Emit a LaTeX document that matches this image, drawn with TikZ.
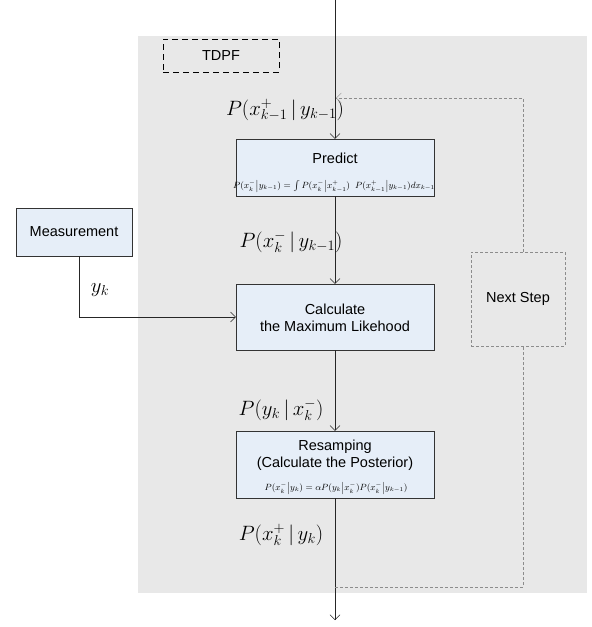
\documentclass[tikz,border=0pt]{standalone}
\usepackage{fontspec}
\setmainfont{Liberation Sans}
\usetikzlibrary{arrows.meta,positioning}
\definecolor{boxblue}{HTML}{E6EEF8}
\definecolor{bggray}{HTML}{E8E8E8}
\definecolor{loopgray}{HTML}{8C8C8C}
\tikzset{
  block/.style={draw=black!80,fill=boxblue,minimum width=198pt,inner sep=0pt},
  blocktext/.style={font=\fontsize{14.5}{17}\selectfont,align=center,inner sep=0pt},
  problabel/.style={font=\fontsize{21}{24}\selectfont,inner sep=0pt},
  formula/.style={font=\fontsize{9}{10}\selectfont,inner sep=0pt},
  flow/.style={draw=black!85,-{Straight Barb[length=5pt,width=10pt]}},
  loopline/.style={draw=loopgray,dashed,dash pattern=on 3pt off 2pt}
}

\begin{document}
\begin{tikzpicture}[x=1pt,y=-1pt]
  \useasboundingbox (0,0) rectangle (592,627);
  \fill[bggray] (138,36) rectangle (587,593);

  \node[draw,thick,dashed,dash pattern=on 6pt off 4pt,minimum width=116pt,minimum height=33pt,font=\fontsize{14.5}{17}\selectfont] (tdpf) at (221,55.5) {TDPF};

  \node[block,minimum height=57pt] (predict) at (335,167.5) {};
  \node[blocktext] at (335,158) {Predict};
  \node[formula] at (334,186) {$P(x^{-}_{k}\big|y_{k-1}) = \int P(x^{-}_{k}\big|x^{+}_{k-1})\;\; P(x^{+}_{k-1}\big|y_{k-1})dx_{k-1}$};

  \node[block,minimum height=66pt] (calc) at (335,317) {};
  \node[blocktext] at (335,318) {Calculate\\the Maximum Likehood};

  \node[block,minimum height=67pt] (resamp) at (335,464.5) {};
  \node[blocktext] at (335,455) {Resamping\\(Calculate the Posterior)};
  \node[formula] at (336,488) {$P(x^{-}_{k}\big|y_{k}) = \alpha P(y_{k}\big|x^{-}_{k})P(x^{-}_{k}\big|y_{k-1})$};

  \node[block,minimum width=116pt,minimum height=48pt,font=\fontsize{14.5}{17}\selectfont] (meas) at (74,232) {Measurement};

  \node[draw=loopgray,dashed,dash pattern=on 3pt off 2pt,minimum width=94pt,minimum height=94pt,font=\fontsize{14.5}{17}\selectfont] (next) at (518,299) {Next Step};

  \node[problabel] (lprior) at (285,110) {$P(x^{+}_{k-1}\,\big|\,y_{k-1})$};
  \node[problabel] (lpred) at (291,242) {$P(x^{-}_{k}\,\big|\,y_{k-1})$};
  \node[problabel] (llik) at (281,410) {$P(y_{k}\,\big|\,x^{-}_{k})$};
  \node[problabel] (lpost) at (281,535) {$P(x^{+}_{k}\,\big|\,y_{k})$};
  \node[problabel] (lyk) at (100,290) {$y_{k}$};

  \coordinate (top) at (335,0);
  \coordinate (bot) at (335,620);
  \coordinate (loopin) at (336,98);
  \coordinate (loopout) at (335,587);

  \draw[flow] (top) -- (predict);
  \draw[flow] (predict) -- (calc);
  \draw[flow] (calc) -- (resamp);
  \draw[flow] (resamp) -- (bot);
  \draw[flow] ([xshift=5pt]meas.south) |- (calc.west);

  \draw[loopline] (loopout) -| ([xshift=5pt]next.south);
  \draw[loopline,-{Straight Barb[length=5pt,width=10pt]}] ([xshift=5pt]next.north) |- (loopin);
\end{tikzpicture}
\end{document}
